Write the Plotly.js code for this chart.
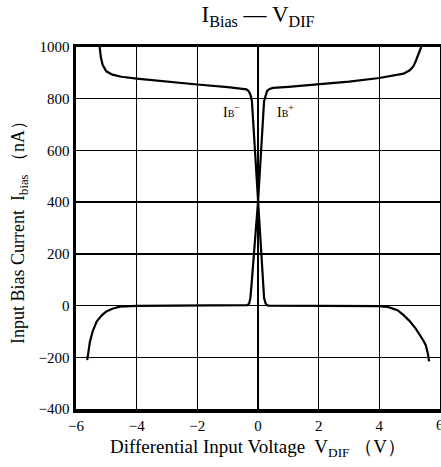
<!DOCTYPE html>
<html><head><meta charset="utf-8">
<script src="https://cdn.plot.ly/plotly-3.0.1.min.js"></script>
<style>html,body{margin:0;padding:0;background:#fff}</style>
</head><body><div id="chart" style="width:441px;height:467px"></div>
<script>
// I_B- : upper-left branch through the crossing to lower-right branch
const vMinus = [-5.22, -5.18, -5.12, -5.0, -4.8, -4.5, -4.0, -3.0, -2.0, -1.0, -0.5, -0.38, -0.3, -0.24, -0.2, 0, 0.2, 0.25, 0.29, 0.35, 0.5, 1, 2, 3, 4, 4.3, 4.6, 4.8, 5.0, 5.2, 5.35, 5.45, 5.53, 5.6, 5.64];
const iMinus = [1000, 960, 930, 906, 893, 885, 878, 866, 855, 845, 840, 836, 828, 812, 790, 400, 30, 8, 2, 0, 0, 0, 0, 0, -2, -6, -18, -37, -60, -89, -115, -135, -153, -185, -216];
// I_B+ : lower-left branch through the crossing to upper-right branch
const vPlus = [-5.63, -5.6, -5.54, -5.45, -5.32, -5.15, -5.0, -4.8, -4.55, -4.0, -3, -2, -1, -0.5, -0.35, -0.29, -0.25, -0.2, 0, 0.2, 0.25, 0.3, 0.38, 0.5, 1, 2, 3, 4, 4.5, 4.8, 5.0, 5.12, 5.2, 5.28, 5.34, 5.38];
const iPlus = [-211, -185, -139, -100, -62, -38, -23, -12, -4, -1, 0, 0, 0, 0, 2, 8, 30, 100, 400, 790, 815, 830, 838, 842, 846, 855, 866, 880, 889, 897, 910, 925, 945, 970, 990, 1000];
const xTicks = [-6, -4, -2, 0, 2, 4, 6];
const yTicks = [-400, -200, 0, 200, 400, 600, 800, 1000];

const serif = "Liberation Serif, Times New Roman, serif";
const lineStyle = {color: "#000", width: 2.2};
const fmt = v => v < 0 ? "−" + Math.abs(v) : String(v);
const data = [
  {x: vMinus, y: iMinus, mode: "lines", line: lineStyle, name: "IB-", hoverinfo: "skip"},
  {x: vPlus, y: iPlus, mode: "lines", line: lineStyle, name: "IB+", hoverinfo: "skip"}
];
const axisCommon = {
  showgrid: true, gridcolor: "#000", gridwidth: 1.4,
  zeroline: false, showline: true, linecolor: "#000", linewidth: 3.5, mirror: true,
  ticks: "", tickfont: {family: serif, size: 15, color: "#000"}
};
const layout = {
  width: 441, height: 467,
  margin: {l: 76, r: 1, t: 47, b: 58},
  paper_bgcolor: "#fff", plot_bgcolor: "#fff",
  showlegend: false,
  title: {text: "I<sub>Bias</sub> — V<sub>DIF</sub>", x: 0.5, xref: "paper", xanchor: "center", y: 0.97, yanchor: "middle",
          font: {family: serif, size: 23, color: "#000"}},
  xaxis: Object.assign({}, axisCommon, {
    range: [-6, 6], tickvals: xTicks, ticktext: xTicks.map(fmt),
    title: {text: "Differential Input Voltage  V<sub>DIF</sub> （V）", standoff: 8, font: {family: serif, size: 19, color: "#000"}}
  }),
  yaxis: Object.assign({}, axisCommon, {
    range: [-400, 1000], tickvals: yTicks, ticktext: yTicks.map(fmt),
    title: {text: "Input Bias Current  I<sub>bias</sub> （nA）", standoff: 10, font: {family: serif, size: 18, color: "#000"}}
  }),
  annotations: [
    {x: -0.89, y: 752, xref: "x", yref: "y", showarrow: false, text: "I<span style='font-size:10px'>B</span><sup>−</sup>", font: {family: serif, size: 14, color: "#000"}, bgcolor: "#fff"},
    {x: 0.89, y: 752, xref: "x", yref: "y", showarrow: false, text: "I<span style='font-size:10px'>B</span><sup>+</sup>", font: {family: serif, size: 14, color: "#000"}, bgcolor: "#fff"},
    {x: 6, y: -400, xref: "x", yref: "y", yshift: -16, showarrow: false, text: fmt(xTicks[xTicks.length - 1]), font: {family: serif, size: 15, color: "#000"}}
  ]
};
Plotly.newPlot("chart", data, layout, {displayModeBar: false, staticPlot: true});
</script></body></html>
